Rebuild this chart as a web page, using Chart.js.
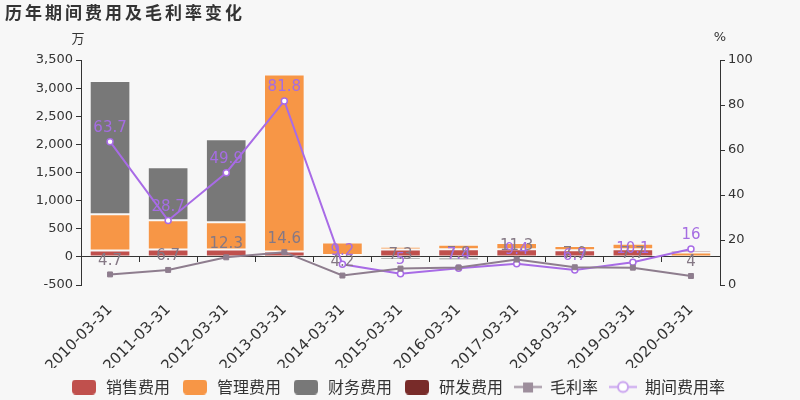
<!DOCTYPE html>
<html>
<head>
<meta charset="utf-8">
<script src="https://cdn.jsdelivr.net/npm/chart.js@4.4.1/dist/chart.umd.min.js"></script>
<style>
  html, body { margin: 0; padding: 0; background: #f7f7f7; }
  #wrap { width: 800px; height: 400px; }
</style>
</head>
<body>
<div id="wrap"><canvas id="chart" width="800" height="400"></canvas></div>
<script>
const categories = ['2010-03-31', '2011-03-31', '2012-03-31', '2013-03-31', '2014-03-31', '2015-03-31',
  '2016-03-31', '2017-03-31', '2018-03-31', '2019-03-31', '2020-03-31'];

// 万元
const salesCost = [112, 130, 130, 94, 35, 130, 137, 135, 120, 135, 5];
const adminCost = [646, 522, 486, 3150, 219, 50, 78, 110, 75, 100, 75];
const financeCost = [2370, 941, 1474, 0, -5, -55, -59, -20, -10, -10, 0];
const rdCost = [0, 0, 0, 0, 0, 0, 0, 0, 0, 0, 40];

// %
const grossMargin = [4.7, 6.7, 12.3, 14.6, 4.2, 7.3, 7.8, 11.3, 7.9, 7.7, 4];
const expenseRate = [63.7, 28.7, 49.9, 81.8, 9.2, 5, 7.4, 9.4, 6.7, 10.1, 16];

const leftTicks = [-500, 0, 500, 1000, 1500, 2000, 2500, 3000, 3500];
const rightTicks = [0, 20, 40, 60, 80, 100];

const COLORS = {
  sales: '#c0504d',
  admin: '#f79646',
  finance: '#787878',
  rd: '#782b29',
  margin: '#8e7d8e',
  rate: '#a86be6'
};
const TEXT = '#333333';
const NUM_FONT = '"DejaVu Sans", sans-serif';
const CJK_FONT = '"Noto Sans CJK SC", "DejaVu Sans", sans-serif';

// little legend swatches
function boxSwatch(color) {
  const c = document.createElement('canvas');
  c.width = 24; c.height = 15;
  const g = c.getContext('2d');
  g.fillStyle = color;
  g.beginPath();
  g.roundRect(0, 0, 24, 15, 4);
  g.fill();
  return c;
}
function lineSwatch(color, marker) {
  const c = document.createElement('canvas');
  c.width = 28; c.height = 15;
  const g = c.getContext('2d');
  g.strokeStyle = color;
  g.lineWidth = 2;
  g.beginPath();
  g.moveTo(0, 7.5); g.lineTo(28, 7.5);
  g.stroke();
  if (marker === 'rect') {
    g.fillStyle = color;
    g.fillRect(9, 3, 10, 10);
  } else {
    g.fillStyle = '#ffffff';
    g.beginPath();
    g.arc(14, 7.5, 5, 0, Math.PI * 2);
    g.fill();
    g.stroke();
  }
  return c;
}

const swatches = [
  boxSwatch(COLORS.sales), boxSwatch(COLORS.admin), boxSwatch(COLORS.finance), boxSwatch(COLORS.rd),
  lineSwatch('#9d8e9c', 'rect'), lineSwatch('#c9a3ef', 'circle')
];

const barStyle = {
  type: 'bar',
  stack: 'cost',
  yAxisID: 'y',
  order: 1,
  borderColor: 'rgba(255,255,255,0.3)',
  borderWidth: 1,
  borderSkipped: false,
  barPercentage: 0.7,
  categoryPercentage: 1
};

const extras = {
  id: 'extras',
  beforeDraw(chart) {
    const { ctx } = chart;
    ctx.save();
    ctx.fillStyle = '#f7f7f7';
    ctx.fillRect(0, 0, chart.width, chart.height);
    ctx.restore();
  },
  afterDraw(chart) {
    const { ctx, chartArea } = chart;
    ctx.save();
    // title
    ctx.fillStyle = TEXT;
    ctx.font = 'bold 17px ' + CJK_FONT;
    ctx.letterSpacing = '3px';
    ctx.textBaseline = 'middle';
    ctx.textAlign = 'left';
    ctx.fillText('历年期间费用及毛利率变化', 5, 13);
    ctx.letterSpacing = '0px';
    // unit labels
    ctx.font = '13px ' + CJK_FONT;
    ctx.textAlign = 'center';
    ctx.fillText('万', chartArea.left - 3, 38);
    ctx.font = '13px ' + NUM_FONT;
    ctx.fillText('%', chartArea.right, 38);
    ctx.restore();
  },
  afterDatasetsDraw(chart) {
    const { ctx } = chart;
    ctx.save();
    ctx.font = '15px ' + NUM_FONT;
    ctx.textAlign = 'center';
    ctx.textBaseline = 'bottom';
    [4, 5].forEach(i => {
      const ds = chart.data.datasets[i];
      const meta = chart.getDatasetMeta(i);
      ctx.fillStyle = i === 4 ? '#857885' : '#a56de2';
      meta.data.forEach((pt, j) => {
        ctx.fillText(String(ds.data[j]), pt.x, pt.y - 6);
      });
    });
    ctx.restore();
  }
};

new Chart(document.getElementById('chart').getContext('2d'), {
  data: {
    labels: categories,
    datasets: [
      { ...barStyle, label: '销售费用', data: salesCost, backgroundColor: COLORS.sales },
      { ...barStyle, label: '管理费用', data: adminCost, backgroundColor: COLORS.admin },
      { ...barStyle, label: '财务费用', data: financeCost, backgroundColor: COLORS.finance },
      { ...barStyle, label: '研发费用', data: rdCost, backgroundColor: COLORS.rd },
      {
        type: 'line', label: '毛利率', data: grossMargin, yAxisID: 'y1', order: 0,
        borderColor: COLORS.margin, backgroundColor: COLORS.margin, borderWidth: 2,
        pointStyle: 'rect', pointRadius: 3.5, pointBorderWidth: 1, tension: 0
      },
      {
        type: 'line', label: '期间费用率', data: expenseRate, yAxisID: 'y1', order: 0,
        borderColor: COLORS.rate, backgroundColor: '#ffffff', borderWidth: 2,
        pointStyle: 'circle', pointRadius: 3, pointBorderWidth: 1.5, tension: 0
      }
    ]
  },
  options: {
    responsive: false,
    animation: false,
    layout: { padding: { left: 5, right: 10, top: 60, bottom: -5 } },
    scales: {
      x: {
        type: 'category',
        offset: true,
        grid: { display: false },
        border: { display: false },
        ticks: {
          color: TEXT,
          font: { family: NUM_FONT, size: 15 },
          minRotation: 45,
          maxRotation: 45,
          padding: 8,
          autoSkip: false
        },
        afterFit(scale) { scale.height = 83; }
      },
      xZero: {
        type: 'category',
        axis: 'x',
        position: { y: 0 },
        offset: true,
        grid: { display: true, drawOnChartArea: false, drawTicks: true, tickLength: 5, color: TEXT, offset: true },
        border: { display: true, color: TEXT, width: 1 },
        ticks: { display: false }
      },
      y: {
        position: 'left',
        min: -500,
        max: 3500,
        afterBuildTicks(scale) { scale.ticks = leftTicks.map(v => ({ value: v })); },
        grid: { display: true, drawOnChartArea: false, drawTicks: true, tickLength: 5, color: TEXT },
        border: { display: true, color: TEXT, width: 1 },
        ticks: {
          color: TEXT,
          font: { family: NUM_FONT, size: 13 },
          padding: 3,
          callback: v => v.toLocaleString('en-US')
        },
        afterFit(scale) { scale.width = 76; }
      },
      y1: {
        position: 'right',
        min: 0,
        max: 100,
        afterBuildTicks(scale) { scale.ticks = rightTicks.map(v => ({ value: v })); },
        grid: { display: true, drawOnChartArea: false, drawTicks: true, tickLength: 5, color: TEXT },
        border: { display: true, color: TEXT, width: 1 },
        ticks: {
          color: TEXT,
          font: { family: NUM_FONT, size: 13 },
          padding: 3
        },
        afterFit(scale) { scale.width = 70; }
      }
    },
    plugins: {
      tooltip: { enabled: false },
      legend: {
        position: 'bottom',
        labels: {
          usePointStyle: true,
          pointStyleWidth: 28,
          boxHeight: 15,
          padding: 11,
          color: TEXT,
          font: { family: CJK_FONT, size: 16 },
          generateLabels(chart) {
            return chart.data.datasets.map((ds, i) => ({
              text: ds.label,
              pointStyle: swatches[i],
              fillStyle: 'transparent',
              strokeStyle: 'transparent',
              lineWidth: 0,
              fontColor: TEXT,
              datasetIndex: i,
              hidden: false
            }));
          }
        }
      }
    }
  },
  plugins: [extras]
});
</script>
</body>
</html>
